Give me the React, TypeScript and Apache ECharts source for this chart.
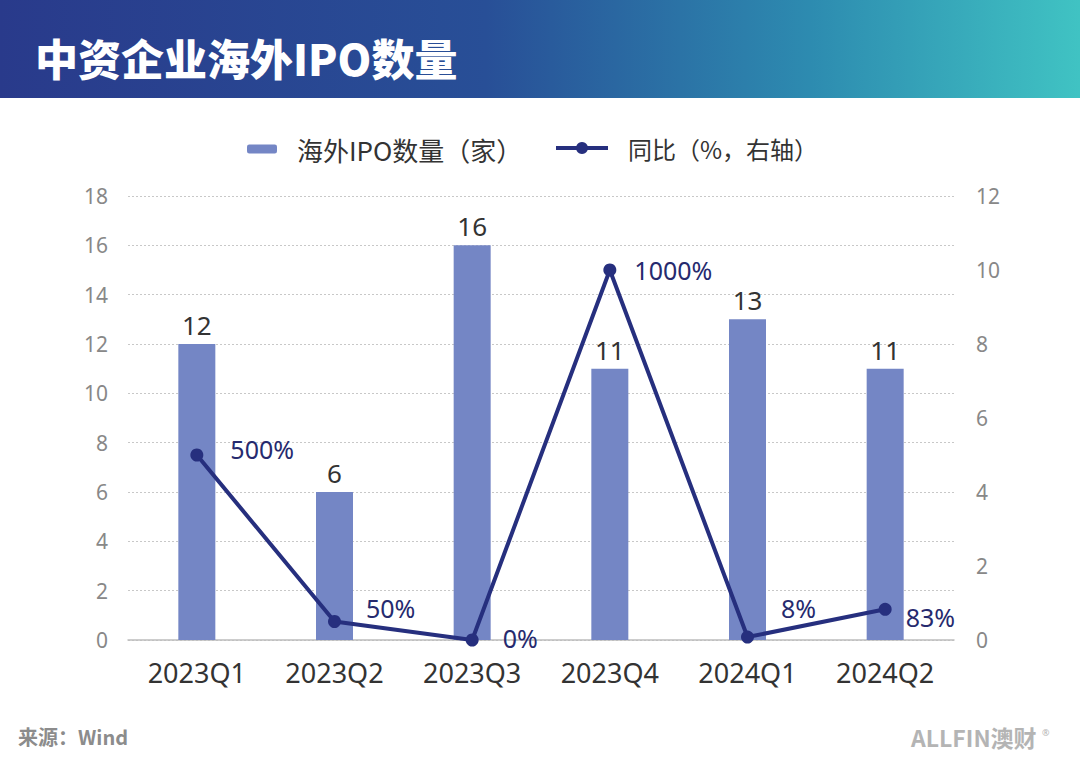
import React, { useEffect, useRef } from "react";
import * as echarts from "echarts";

const categories = ["2023Q1", "2023Q2", "2023Q3", "2023Q4", "2024Q1", "2024Q2"];
const ipoCounts = [12, 6, 16, 11, 13, 11];
const yoyPct = [500, 50, 0, 1000, 8, 83];
const leftTicks = { min: 0, max: 18, interval: 2 };
const rightTicks = { min: 0, max: 1200, interval: 200 };
const yoyLabelOffsets = [
  [22, -6],
  [20, -14],
  [19, -2],
  [13, 0],
  [22, -29],
  [9, 8],
];

const FONT = "'Noto Sans', 'Noto Sans CJK SC', sans-serif";
const CJK = "'Noto Sans CJK SC', 'Noto Sans', sans-serif";
const BAR_NAME = "海外IPO数量（家）";
const LINE_NAME = "同比（%，右轴）";

export default function App() {
  const ref = useRef<HTMLDivElement>(null);
  useEffect(() => {
    document.body.style.margin = "0";
    const chart = echarts.init(ref.current!, null, { renderer: "svg" });
    chart.setOption({
      animation: false,
      backgroundColor: "#ffffff",
      textStyle: { fontFamily: FONT },
      graphic: [
        {
          type: "rect",
          left: 0,
          top: 0,
          shape: { width: 1080, height: 98 },
          style: {
            fill: new echarts.graphic.LinearGradient(0, 0, 1, 0, [
              { offset: 0, color: "#293a8b" },
              { offset: 0.45, color: "#284f97" },
              { offset: 0.75, color: "#2d8bb0" },
              { offset: 1, color: "#40c3c3" },
            ]),
          },
          silent: true,
        },
        {
          type: "text",
          left: 35,
          top: 35,
          style: {
            text: "中资企业海外IPO数量",
            fill: "#ffffff",
            font: `900 43px ${CJK}`,
          },
        },
        {
          type: "text",
          left: 18,
          top: 726,
          style: {
            text: "来源：Wind",
            fill: "#8c8c8c",
            font: `bold 20px ${CJK}`,
          },
        },
        {
          type: "text",
          left: 911,
          top: 725,
          style: {
            text: "ALLFIN澳财",
            fill: "#b4b4b4",
            font: `bold 23px ${CJK}`,
          },
        },
        {
          type: "text",
          left: 1042,
          top: 728,
          style: {
            text: "®",
            fill: "#b4b4b4",
            font: `9px ${FONT}`,
          },
        },
      ],
      legend: [
        {
          data: [BAR_NAME],
          left: 242,
          top: 131,
          itemWidth: 30,
          itemHeight: 9,
          textStyle: {
            fontSize: 26,
            color: "#333333",
            fontFamily: CJK,
            padding: [0, 0, 0, 15],
          },
        },
        {
          data: [
            {
              name: LINE_NAME,
              lineStyle: { width: 4, color: "#262f7e" },
              itemStyle: { color: "#262f7e" },
            },
          ],
          left: 549,
          top: 131,
          itemWidth: 52,
          itemHeight: 15,
          textStyle: {
            fontSize: 24,
            color: "#333333",
            fontFamily: CJK,
            padding: [0, 0, 0, 15],
          },
        },
      ],
      grid: { left: 128, right: 126, top: 196, bottom: 127, containLabel: false },
      xAxis: {
        type: "category",
        data: categories,
        axisLine: { lineStyle: { color: "#bdbdbd", width: 1.5 } },
        axisTick: { show: false },
        axisLabel: { fontSize: 27, color: "#333333", margin: 19 },
      },
      yAxis: [
        {
          type: "value",
          ...leftTicks,
          axisLine: { show: false },
          axisTick: { show: false },
          axisLabel: { fontSize: 21, color: "#888888", margin: 20 },
          splitLine: { lineStyle: { color: "#c8c8c8", type: [2, 2], width: 1 } },
        },
        {
          type: "value",
          ...rightTicks,
          axisLine: { show: false },
          axisTick: { show: false },
          axisLabel: {
            fontSize: 21,
            color: "#888888",
            margin: 22,
            formatter: (v: number) => String(v / 100),
          },
          splitLine: { show: false },
        },
      ],
      series: [
        {
          name: BAR_NAME,
          type: "bar",
          data: ipoCounts,
          barWidth: 37,
          itemStyle: { color: "#7486c5" },
          label: {
            show: true,
            position: "top",
            distance: 6,
            fontSize: 26,
            color: "#333333",
          },
          z: 2,
        },
        {
          name: LINE_NAME,
          type: "line",
          yAxisIndex: 1,
          data: yoyPct.map((v, i) => ({
            value: v,
            label: { offset: yoyLabelOffsets[i] },
          })),
          symbol: "circle",
          symbolSize: 13,
          lineStyle: { color: "#262f7e", width: 4 },
          itemStyle: { color: "#262f7e" },
          label: {
            show: true,
            position: "right",
            distance: 5,
            fontSize: 25,
            color: "#262a6e",
            formatter: (p: any) => `${p.value}%`,
          },
          z: 3,
        },
      ],
    });
    return () => chart.dispose();
  }, []);
  return <div ref={ref} style={{ width: 1080, height: 767 }} />;
}
